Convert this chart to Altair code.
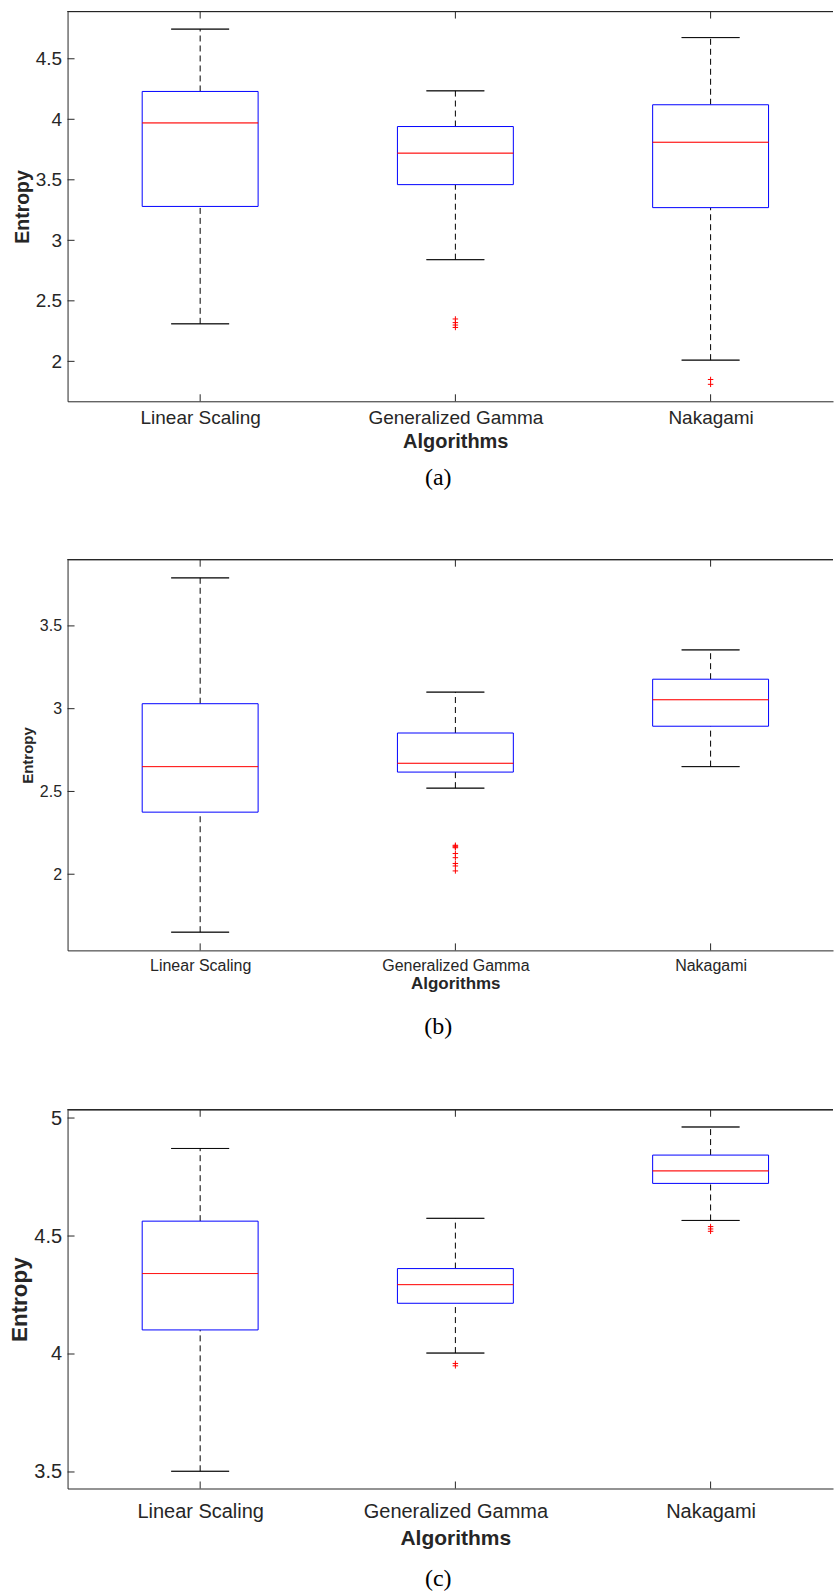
import json
import altair as alt
import pandas as pd

# ---------------- data ----------------
categories = ["Linear Scaling", "Generalized Gamma", "Nakagami"]

# panel (a)
a_low = [2.31, 2.84, 2.01]
a_q1 = [3.28, 3.46, 3.27]
a_med = [3.97, 3.72, 3.81]
a_q3 = [4.23, 3.94, 4.12]
a_high = [4.745, 4.235, 4.675]
a_out_cat = ["Generalized Gamma"] * 4 + ["Nakagami"] * 2
a_out_val = [2.35, 2.32, 2.30, 2.28, 1.85, 1.81]
a_yticks = [2, 2.5, 3, 3.5, 4, 4.5]
a_ydomain = [1.67, 4.89]

# panel (b)
b_low = [1.65, 2.52, 2.65]
b_q1 = [2.375, 2.617, 2.894]
b_med = [2.65, 2.67, 3.054]
b_q3 = [3.03, 2.853, 3.178]
b_high = [3.79, 3.10, 3.355]
b_out_cat = ["Generalized Gamma"] * 9
b_out_val = [2.175, 2.17, 2.165, 2.16, 2.125, 2.10, 2.065, 2.05, 2.02]
b_yticks = [2, 2.5, 3, 3.5]
b_ydomain = [1.54, 3.90]

# panel (c)
c_low = [3.503, 4.004, 4.566]
c_q1 = [4.102, 4.215, 4.723]
c_med = [4.341, 4.294, 4.776]
c_q3 = [4.563, 4.362, 4.843]
c_high = [4.871, 4.575, 4.962]
c_out_cat = ["Generalized Gamma"] * 2 + ["Nakagami"] * 3
c_out_val = [3.96, 3.95, 4.54, 4.53, 4.52]
c_yticks = [3.5, 4, 4.5, 5]
c_ydomain = [3.43, 5.035]

x_positions = [1, 2, 3]

# ---------------- styling ----------------
W = 766
AX = "#262626"
FONT = "Liberation Sans"
label_expr = json.dumps(categories) + "[datum.value - 1]"


def panel(low, q1, med, q3, high, out_cat, out_val, yticks, ydomain, H,
          fs, xtfs, ytfs, xlab_pad, xtitle_y, ytitle_x, caption, cap_y):
    xscale = alt.Scale(domain=[0.5, 3.46], nice=False, zero=False)
    yscale = alt.Scale(domain=ydomain, nice=False, zero=False)
    xaxis = alt.Axis(values=x_positions, labelExpr=label_expr, title="Algorithms",
                     grid=False, ticks=False, tickSize=0, domainColor=AX, domainWidth=1,
                     labelColor=AX, labelFont=FONT, labelFontSize=fs, labelPadding=xlab_pad,
                     labelLimit=0,
                     titleFont=FONT, titleFontSize=xtfs, titleFontWeight="bold", titleColor=AX,
                     titleY=xtitle_y, titleX=388, titleBaseline="middle")
    yaxis = alt.Axis(values=yticks, format=".1~f", title="Entropy",
                     grid=False, ticks=False, tickSize=0, domainColor=AX, domainWidth=1,
                     labelColor=AX, labelFont=FONT, labelFontSize=fs, labelPadding=6,
                     titleFont=FONT, titleFontSize=ytfs, titleFontWeight="bold", titleColor=AX,
                     titleX=ytitle_x, titleY=H / 2, titleBaseline="middle", titleAngle=270)

    def X():
        return alt.X("pos:Q", scale=xscale, axis=xaxis)

    def Y(f):
        return alt.Y(f"{f}:Q", scale=yscale, axis=yaxis)

    df = pd.DataFrame({"cat": categories, "pos": x_positions, "low": low, "q1": q1,
                       "med": med, "q3": q3, "high": high})
    base = alt.Chart(df)

    whisk_hi = base.mark_rule(color="black", strokeWidth=1, strokeDash=[6, 4]).encode(
        x=X(), y=Y("q3"), y2="high:Q")
    whisk_lo = base.mark_rule(color="black", strokeWidth=1, strokeDash=[6, 4]).encode(
        x=X(), y=Y("low"), y2="q1:Q")
    cap_hi = base.mark_bar(size=58, fillOpacity=0, stroke="black", strokeWidth=0.8).encode(
        x=X(), y=Y("high"), y2="high:Q")
    cap_lo = base.mark_bar(size=58, fillOpacity=0, stroke="black", strokeWidth=0.8).encode(
        x=X(), y=Y("low"), y2="low:Q")
    box = base.mark_bar(size=116, fill="white", fillOpacity=1, stroke="#0000FF",
                        strokeWidth=1).encode(x=X(), y=Y("q1"), y2="q3:Q")
    median = base.mark_bar(size=116, fillOpacity=0, stroke="#FF0000", strokeWidth=0.7).encode(
        x=X(), y=Y("med"), y2="med:Q")

    odf = pd.DataFrame({"pos": [categories.index(c) + 1 for c in out_cat], "v": out_val})
    outliers = alt.Chart(odf).mark_point(
        shape="M-1,0L1,0M0,-1L0,1", size=30, filled=False, color="#FF0000", strokeWidth=1,
        opacity=1).encode(x=X(), y=Y("v"))

    ytdf = pd.DataFrame({"v": yticks})
    yt = alt.Chart(ytdf).mark_rule(color=AX, strokeWidth=1).encode(
        y=Y("v"), x=alt.value(0), x2=alt.value(7))
    xtdf = pd.DataFrame({"pos": x_positions})
    xt_bot = alt.Chart(xtdf).mark_rule(color=AX, strokeWidth=1).encode(
        x=X(), y=alt.value(H - 7), y2=alt.value(H))
    xt_top = alt.Chart(xtdf).mark_rule(color=AX, strokeWidth=1).encode(
        x=X(), y=alt.value(0), y2=alt.value(7))
    top_border = alt.Chart(xtdf).mark_rule(color=AX, strokeWidth=1).encode(
        x=alt.value(0), x2=alt.value(W), y=alt.value(0))

    cdf = pd.DataFrame({"caption": [caption]})
    cap = alt.Chart(cdf).mark_text(font="Liberation Serif", fontSize=24, color="black",
                                   baseline="middle", align="center").encode(
        text="caption:N", x=alt.value(371), y=alt.value(H + cap_y))

    return alt.layer(whisk_hi, whisk_lo, cap_hi, cap_lo, box, median, outliers,
                     yt, xt_bot, xt_top, top_border, cap).properties(width=W, height=H)


pa = panel(a_low, a_q1, a_med, a_q3, a_high, a_out_cat, a_out_val, a_yticks, a_ydomain,
           390, 19, 20, 19.5, 7.5, 40.5, -45.4, "(a)", 76.5)
pb = panel(b_low, b_q1, b_med, b_q3, b_high, b_out_cat, b_out_val, b_yticks, b_ydomain,
           391, 16, 17, 15, 7, 33, -39.7, "(b)", 77)
pc = panel(c_low, c_q1, c_med, c_q3, c_high, c_out_cat, c_out_val, c_yticks, c_ydomain,
           379, 20, 21, 22.5, 13, 50.5, -48, "(c)", 91)

chart = alt.vconcat(pa, pb, pc, spacing=68.5).properties(
    padding={"left": 8.6, "top": 10, "right": 0, "bottom": 0},
    background="white",
).configure_view(stroke=None)

chart.save("out.html", embed_options={"renderer": "svg", "actions": False})
